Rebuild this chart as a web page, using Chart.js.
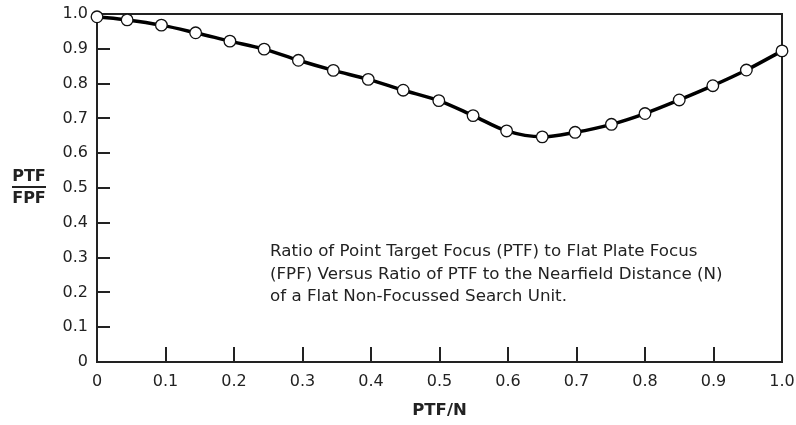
<!DOCTYPE html>
<html>
<head>
<meta charset="utf-8">
<script src="https://cdn.jsdelivr.net/npm/chart.js@4.4.0/dist/chart.umd.min.js"></script>
<style>
  html, body { margin: 0; padding: 0; background: #fff; }
  #wrap { width: 796px; height: 425px; }
</style>
</head>
<body>
<div id="wrap"><canvas id="ptfChart"></canvas></div>
<script>
// values
const ptfN = [0, 0.044, 0.094, 0.144, 0.194, 0.244, 0.294, 0.345, 0.396, 0.447,
  0.499, 0.549, 0.598, 0.65, 0.698, 0.751, 0.80, 0.85, 0.899, 0.948, 1.0];
const ptfOverFpf = [0.992, 0.983, 0.968, 0.946, 0.922, 0.899, 0.867, 0.838, 0.812, 0.781,
  0.751, 0.708, 0.664, 0.647, 0.66, 0.683, 0.714, 0.753, 0.794, 0.839, 0.894];
const xTicks = [0, 0.1, 0.2, 0.3, 0.4, 0.5, 0.6, 0.7, 0.8, 0.9, 1.0];
const yTicks = [0, 0.1, 0.2, 0.3, 0.4, 0.5, 0.6, 0.7, 0.8, 0.9, 1.0];
const noteLines = [
  "Ratio of Point Target Focus (PTF) to Flat Plate Focus",
  "(FPF) Versus Ratio of PTF to the Nearfield Distance (N)",
  "of a Flat Non-Focussed Search Unit."
];

const font = "'DejaVu Sans', Verdana, sans-serif";
const ink = "#222";

function fmt(v) {
  if (v === 0) return "0";
  return v.toFixed(1);
}

// frame, inward tick marks, y title fraction and the note
const decorPlugin = {
  id: "decor",
  beforeDatasetsDraw(chart) {
    const { ctx, chartArea: a, scales } = chart;
    ctx.save();
    ctx.strokeStyle = ink;
    ctx.lineWidth = 2;
    ctx.strokeRect(a.left, a.top, a.right - a.left, a.bottom - a.top);

    ctx.beginPath();
    yTicks.forEach((v) => {
      if (v === 0 || v === 1) return;
      const y = Math.round(scales.y.getPixelForValue(v));
      ctx.moveTo(a.left, y);
      ctx.lineTo(a.left + 13, y);
    });
    xTicks.forEach((v) => {
      if (v === 0 || v === 1) return;
      const x = Math.round(scales.x.getPixelForValue(v));
      ctx.moveTo(x, a.bottom);
      ctx.lineTo(x, a.bottom - 15);
    });
    ctx.stroke();

    // y title as a fraction
    ctx.fillStyle = ink;
    ctx.font = "bold 16px " + font;
    ctx.textAlign = "center";
    ctx.textBaseline = "middle";
    ctx.fillText("PTF", 29, 177);
    ctx.fillText("FPF", 29, 199);
    ctx.fillRect(12, 186, 34, 2);

    // note text
    ctx.font = "16.7px " + font;
    ctx.textAlign = "left";
    noteLines.forEach((line, i) => {
      ctx.fillText(line, 270, 252 + i * 22.5);
    });
    ctx.restore();
  }
};

const ctx = document.getElementById("ptfChart").getContext("2d");
const ptfChart = new Chart(ctx, {
  type: "line",
  data: {
    datasets: [
      {
        data: ptfN.map((x, i) => ({ x: x, y: ptfOverFpf[i] })),
        borderColor: "#000",
        borderWidth: 3.5,
        tension: 0.4,
        cubicInterpolationMode: "monotone",
        pointRadius: 5.8,
        pointBackgroundColor: "#fff",
        pointBorderColor: "#111",
        pointBorderWidth: 1.3,
        clip: false
      }
    ]
  },
  options: {
    responsive: true,
    maintainAspectRatio: false,
    animation: false,
    layout: { padding: { left: 0, top: 14, right: 14, bottom: 0 } },
    plugins: {
      legend: { display: false },
      tooltip: { enabled: false }
    },
    scales: {
      x: {
        type: "linear",
        min: 0,
        max: 1,
        afterBuildTicks: (s) => { s.ticks = xTicks.map((v) => ({ value: v })); },
        afterFit: (s) => { s.height = 63; s.paddingLeft = 0; s.paddingRight = 0; },
        grid: { display: false, drawTicks: false },
        border: { display: false },
        ticks: {
          color: ink,
          font: { family: font, size: 16 },
          padding: 10,
          maxRotation: 0,
          callback: (v) => fmt(v)
        },
        title: {
          display: true,
          text: "PTF/N",
          color: ink,
          font: { family: font, size: 16.5, weight: "bold" },
          padding: { top: 7 }
        }
      },
      y: {
        type: "linear",
        min: 0,
        max: 1,
        afterBuildTicks: (s) => { s.ticks = yTicks.map((v) => ({ value: v })); },
        afterFit: (s) => { s.width = 97; s.paddingTop = 0; s.paddingBottom = 0; },
        grid: { display: false, drawTicks: false },
        border: { display: false },
        ticks: {
          color: ink,
          font: { family: font, size: 16 },
          padding: 9,
          callback: (v) => fmt(v)
        }
      }
    }
  },
  plugins: [decorPlugin]
});
</script>
</body>
</html>
